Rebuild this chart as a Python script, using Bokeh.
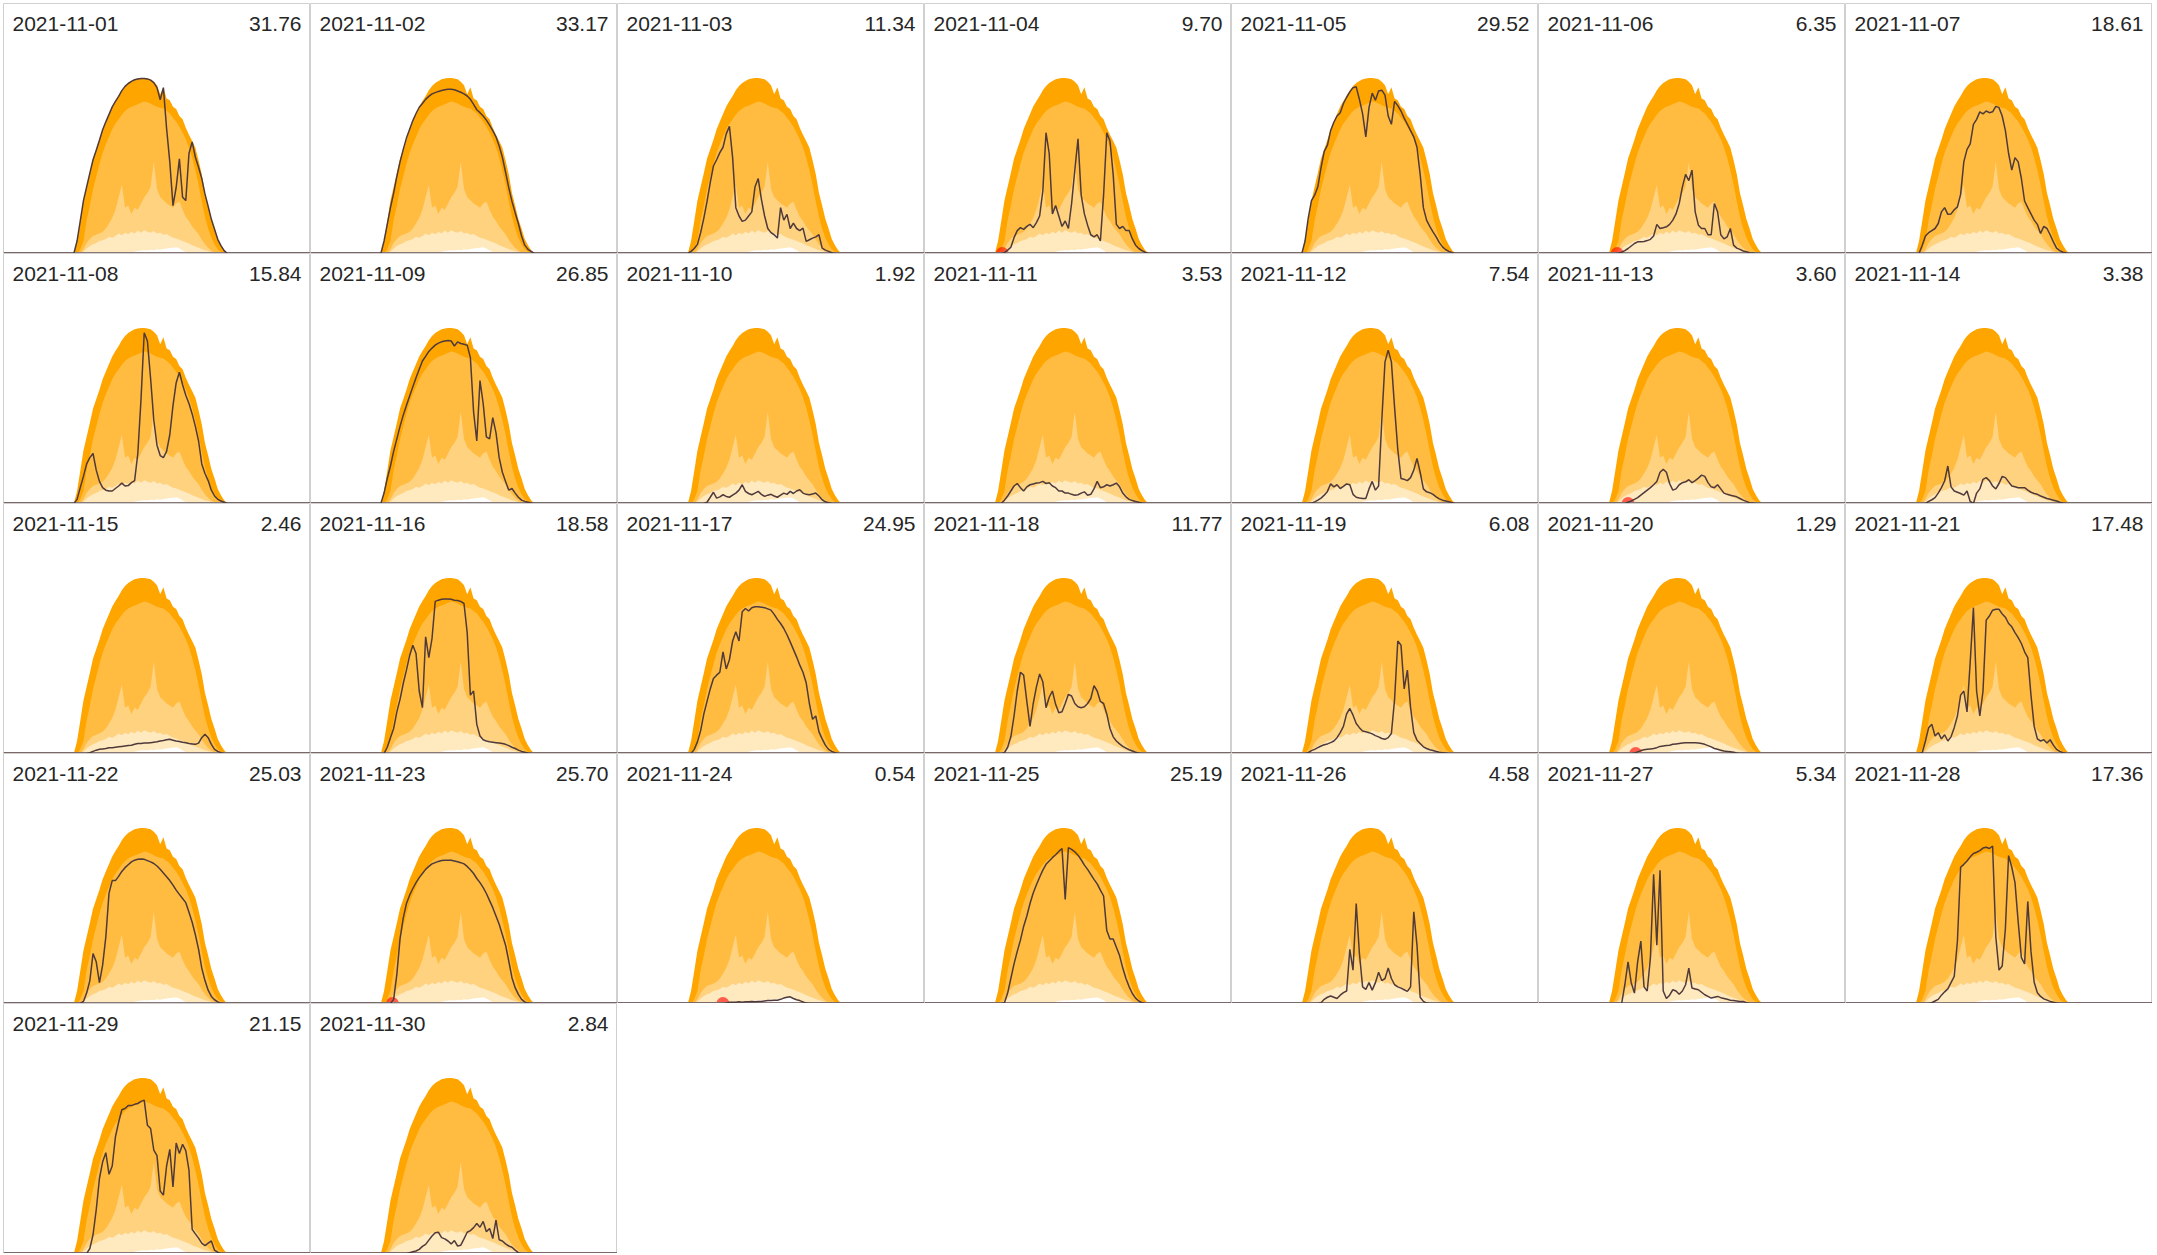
from bokeh.plotting import figure
from bokeh.layouts import gridplot
from bokeh.models import Label, Range1d, ColumnDataSource
from bokeh.embed import file_html
from bokeh.resources import INLINE

# ---------------- data ----------------
HOURS = [5.5, 5.75, 6.0, 6.25, 6.5, 6.75, 7.0, 7.25, 7.5, 7.75, 8.0, 8.25,
         8.5, 8.75, 9.0, 9.25, 9.5, 9.75, 10.0, 10.25, 10.5, 10.75, 11.0, 11.25,
         11.5, 11.75, 12.0, 12.25, 12.5, 12.75, 13.0, 13.25, 13.5, 13.75, 14.0, 14.25,
         14.5, 14.75, 15.0, 15.25, 15.5, 15.75, 16.0, 16.25, 16.5, 16.75, 17.0, 17.25,
         17.5]

BAND_MAX = [0, 0.3, 0.78, 1.27, 1.6, 1.93, 2.28, 2.5, 2.73, 2.98, 3.17, 3.35,
            3.53, 3.66, 3.78, 3.92, 4.02, 4.09, 4.14, 4.18, 4.2, 4.21, 4.21, 4.2,
            4.18, 4.12, 4.04, 3.82, 3.99, 3.72, 3.68, 3.52, 3.47, 3.3, 3.22, 3.02,
            2.85, 2.7, 2.54, 2.24, 1.9, 1.45, 1.15, 0.83, 0.6, 0.35, 0.2, 0.08,
            0]
BAND_Q75 = [0, 0, 0.1, 0.3, 0.8, 1.15, 1.55, 1.85, 2.15, 2.42, 2.62, 2.8,
            2.98, 3.12, 3.22, 3.33, 3.42, 3.48, 3.52, 3.55, 3.58, 3.62, 3.65, 3.63,
            3.6, 3.56, 3.52, 3.5, 3.48, 3.42, 3.36, 3.26, 3.16, 3.04, 2.9, 2.74,
            2.55, 2.3, 2.0, 1.65, 1.25, 0.88, 0.6, 0.38, 0.22, 0.1, 0.04, 0,
            0]
BAND_Q50 = [0, 0, 0, 0.1, 0.25, 0.35, 0.42, 0.45, 0.48, 0.52, 0.6, 0.72,
            0.85, 1.05, 1.35, 1.65, 1.1, 1.15, 0.95, 1.1, 1.05, 1.2, 1.35, 1.45,
            1.6, 2.2, 1.55, 1.35, 1.28, 1.2, 1.15, 1.1, 1.2, 1.25, 1.05, 0.88,
            0.78, 0.65, 0.55, 0.46, 0.33, 0.22, 0.13, 0.07, 0.02, 0, 0, 0,
            0]
BAND_Q25 = [0, 0, 0, 0.05, 0.12, 0.18, 0.22, 0.25, 0.3, 0.32, 0.35, 0.4,
            0.38, 0.42, 0.48, 0.44, 0.5, 0.46, 0.52, 0.48, 0.55, 0.5, 0.56, 0.52,
            0.5, 0.54, 0.48, 0.5, 0.45, 0.47, 0.42, 0.38, 0.36, 0.33, 0.3, 0.27,
            0.24, 0.2, 0.17, 0.14, 0.11, 0.08, 0.06, 0.03, 0.01, 0, 0, 0,
            0]
BAND_MIN = [0, 0, 0, 0, 0, 0, 0, 0, 0, 0, 0, 0,
            0, 0, 0, 0, 0, 0, 0.02, 0.04, 0.06, 0.07, 0.08, 0.07,
            0.09, 0.08, 0.1, 0.09, 0.11, 0.12, 0.13, 0.14, 0.15, 0.12, 0.08, 0.03,
            0, 0, 0, 0, 0, 0, 0, 0, 0, 0, 0, 0,
            0]

DATES = ["2021-11-%02d" % d for d in range(1, 31)]
TOTALS = [31.76, 33.17, 11.34, 9.70, 29.52, 6.35, 18.61,
          15.84, 26.85, 1.92, 3.53, 7.54, 3.60, 3.38,
          2.46, 18.58, 24.95, 11.77, 6.08, 1.29, 17.48,
          25.03, 25.70, 0.54, 25.19, 4.58, 5.34, 17.36,
          21.15, 2.84]

DAY_01 = [0, 0.3, 0.78, 1.27, 1.6, 1.93, 2.25, 2.48, 2.72, 2.97, 3.16, 3.34,
          3.52, 3.65, 3.77, 3.91, 4.01, 4.08, 4.13, 4.17, 4.19, 4.2, 4.2, 4.19,
          4.16, 4.1, 3.98, 3.69, 3.98, 3.0, 2.2, 1.15, 1.59, 2.27, 1.35, 1.27,
          2.4, 2.68, 2.31, 2.07, 1.8, 1.43, 1.13, 0.82, 0.58, 0.34, 0.19, 0.07, 0]
DAY_02 = [0, 0.3, 0.7, 1.1, 1.45, 1.85, 2.2, 2.5, 2.77, 2.98, 3.19, 3.36,
          3.51, 3.6, 3.7, 3.77, 3.83, 3.86, 3.89, 3.91, 3.93, 3.94, 3.94, 3.93,
          3.9, 3.87, 3.83, 3.78, 3.7, 3.58, 3.45, 3.38, 3.3, 3.2, 3.08, 2.95,
          2.8, 2.58, 2.31, 1.95, 1.58, 1.25, 0.98, 0.72, 0.42, 0.2, 0.1, 0.05, 0]
DAY_03 = [0, 0.05, 0.12, 0.22, 0.5, 0.85, 1.25, 1.7, 2.1, 2.25, 2.42, 2.55,
          2.87, 3.05, 2.3, 1.1, 0.9, 0.77, 0.8, 0.9, 1.0, 1.6, 1.8, 1.3,
          0.9, 0.6, 0.5, 0.45, 0.37, 1.1, 0.8, 0.94, 0.6, 0.73, 0.6, 0.55,
          0.61, 0.29, 0.33, 0.37, 0.4, 0.45, 0.13, 0.08, 0.05, 0.02, 0, 0, 0]
DAY_04 = [0, 0, 0, 0.02, 0.08, 0.15, 0.38, 0.55, 0.62, 0.58, 0.65, 0.7,
          0.62, 0.74, 0.9, 1.5, 2.9, 2.4, 0.95, 1.15, 0.9, 0.65, 0.78, 0.6,
          1.2, 2.0, 2.75, 1.4, 0.95, 0.68, 0.45, 0.4, 0.45, 0.3, 1.4, 2.9,
          2.7, 1.9, 0.7, 0.6, 0.65, 0.55, 0.55, 0.35, 0.2, 0.12, 0.07, 0.03, 0]
DAY_05 = [0, 0.3, 0.85, 1.27, 1.4, 1.6, 2.06, 2.45, 2.6, 2.95, 3.15, 3.3,
          3.38, 3.6, 3.75, 3.88, 3.98, 4.0, 3.7, 3.35, 2.8, 3.5, 3.85, 3.68,
          3.9, 3.92, 3.8, 3.3, 3.1, 3.65, 3.55, 3.42, 3.25, 3.1, 2.95, 2.8,
          2.55, 1.9, 1.1, 0.8, 0.65, 0.52, 0.4, 0.26, 0.16, 0.09, 0.05, 0.02, 0]
DAY_06 = [0, 0, 0, 0.01, 0.03, 0.07, 0.12, 0.18, 0.24, 0.28, 0.28, 0.29,
          0.31, 0.34, 0.42, 0.7, 0.6, 0.62, 0.64, 0.7, 0.8, 0.95, 1.2, 1.6,
          1.9, 1.75, 2.0, 1.0, 0.68, 0.6, 0.6, 0.45, 0.45, 1.2, 1.0, 0.45,
          0.35, 0.4, 0.6, 0.2, 0.13, 0.1, 0.06, 0.04, 0.02, 0.01, 0, 0, 0]
DAY_07 = [0, 0, 0.2, 0.42, 0.5, 0.55, 0.6, 0.72, 1.0, 1.1, 0.94, 0.95,
          1.05, 1.12, 1.42, 2.2, 2.5, 2.63, 3.1, 3.22, 3.4, 3.35, 3.42, 3.38,
          3.4, 3.53, 3.5, 3.3, 2.95, 2.4, 2.0, 2.3, 2.2, 1.8, 1.26, 1.1,
          0.95, 0.8, 0.7, 0.48, 0.65, 0.6, 0.45, 0.28, 0.13, 0.07, 0.03, 0.01, 0]
DAY_08 = [0, 0.1, 0.38, 0.65, 0.95, 1.1, 1.2, 0.8, 0.53, 0.38, 0.32, 0.3,
          0.3, 0.36, 0.42, 0.49, 0.42, 0.43, 0.5, 0.55, 1.2, 2.5, 4.1, 3.9,
          3.0, 2.0, 1.4, 1.15, 1.1, 1.25, 1.65, 2.35, 2.9, 3.15, 2.85, 2.6,
          2.4, 2.15, 1.85, 1.5, 0.95, 0.72, 0.55, 0.32, 0.18, 0.1, 0.06, 0.03, 0]
DAY_09 = [0, 0.25, 0.6, 0.9, 1.25, 1.55, 1.85, 2.12, 2.35, 2.58, 2.8, 3.02,
          3.22, 3.42, 3.53, 3.65, 3.73, 3.8, 3.85, 3.88, 3.9, 3.91, 3.9, 3.78,
          3.88, 3.84, 3.82, 3.8, 3.5, 2.2, 1.5, 2.95, 2.4, 1.6, 1.55, 2.06,
          1.7, 1.1, 0.75, 0.53, 0.32, 0.36, 0.25, 0.15, 0.08, 0.05, 0.03, 0.01, 0]
DAY_10 = [0, 0, 0, 0, 0, 0, 0.03, 0.15, 0.27, 0.13, 0.16, 0.21,
          0.17, 0.15, 0.2, 0.25, 0.32, 0.45, 0.29, 0.24, 0.21, 0.25, 0.29, 0.22,
          0.17, 0.2, 0.22, 0.18, 0.15, 0.2, 0.25, 0.22, 0.29, 0.24, 0.3, 0.33,
          0.25, 0.22, 0.21, 0.23, 0.25, 0.18, 0.09, 0.04, 0.02, 0, 0, 0, 0]
DAY_11 = [0, 0, 0, 0.08, 0.18, 0.3, 0.42, 0.48, 0.38, 0.3, 0.4, 0.45,
          0.47, 0.49, 0.5, 0.53, 0.48, 0.5, 0.42, 0.38, 0.3, 0.3, 0.25, 0.25,
          0.22, 0.2, 0.21, 0.25, 0.28, 0.2, 0.22, 0.35, 0.53, 0.38, 0.4, 0.45,
          0.42, 0.45, 0.49, 0.4, 0.25, 0.16, 0.1, 0.07, 0.05, 0.03, 0.01, 0, 0]
DAY_12 = [0, 0, 0, 0.01, 0.04, 0.08, 0.13, 0.2, 0.29, 0.47, 0.4, 0.45,
          0.36, 0.41, 0.47, 0.45, 0.22, 0.15, 0.13, 0.12, 0.12, 0.35, 0.53, 0.32,
          0.42, 2.0, 3.4, 3.68, 3.4, 2.3, 1.3, 0.6, 0.58, 0.55, 0.62, 0.8,
          1.08, 0.75, 0.35, 0.28, 0.26, 0.22, 0.16, 0.11, 0.08, 0.06, 0.04, 0.02, 0]
DAY_13 = [0, 0, 0, 0, 0, 0, 0.03, 0.06, 0.1, 0.14, 0.2, 0.26,
          0.32, 0.38, 0.45, 0.53, 0.75, 0.82, 0.75, 0.48, 0.32, 0.35, 0.45, 0.5,
          0.52, 0.57, 0.5, 0.55, 0.61, 0.68, 0.65, 0.5, 0.4, 0.38, 0.45, 0.35,
          0.25, 0.22, 0.2, 0.18, 0.16, 0.12, 0.08, 0.05, 0.02, 0.01, 0, 0, 0]
DAY_14 = [0, 0, 0, 0, 0.05, 0.09, 0.14, 0.25, 0.38, 0.54, 0.9, 0.4,
          0.3, 0.27, 0.24, 0.2, 0.3, 0.05, 0.0, 0.25, 0.35, 0.58, 0.62, 0.55,
          0.42, 0.35, 0.48, 0.65, 0.62, 0.52, 0.42, 0.4, 0.38, 0.38, 0.38, 0.32,
          0.27, 0.24, 0.22, 0.18, 0.15, 0.12, 0.1, 0.08, 0.06, 0.03, 0.01, 0, 0]
DAY_15 = [0, 0, 0, 0, 0, 0.02, 0.05, 0.08, 0.1, 0.11, 0.12, 0.14,
          0.14, 0.15, 0.16, 0.17, 0.18, 0.19, 0.2, 0.22, 0.24, 0.24, 0.25, 0.25,
          0.26, 0.27, 0.28, 0.3, 0.31, 0.33, 0.34, 0.32, 0.3, 0.29, 0.27, 0.26,
          0.24, 0.23, 0.22, 0.25, 0.38, 0.46, 0.38, 0.22, 0.1, 0.05, 0.02, 0, 0]
DAY_16 = [0, 0, 0.15, 0.38, 0.6, 1.0, 1.3, 1.68, 2.0, 2.35, 2.6, 2.4,
          1.5, 1.1, 2.8, 2.3, 2.76, 3.65, 3.68, 3.7, 3.71, 3.71, 3.7, 3.68,
          3.67, 3.65, 3.6, 2.9, 1.4, 1.5, 0.7, 0.42, 0.33, 0.3, 0.28, 0.27,
          0.26, 0.25, 0.24, 0.22, 0.19, 0.15, 0.12, 0.08, 0.05, 0.03, 0.01, 0, 0]
DAY_17 = [0, 0, 0.1, 0.28, 0.55, 0.95, 1.25, 1.55, 1.8, 1.88, 1.95, 2.44,
          2.03, 2.25, 2.7, 2.92, 2.7, 3.4, 3.48, 3.42, 3.5, 3.52, 3.52, 3.51,
          3.5, 3.47, 3.44, 3.34, 3.22, 3.12, 3.0, 2.85, 2.68, 2.5, 2.32, 2.12,
          1.95, 1.7, 1.2, 0.82, 0.9, 0.52, 0.35, 0.2, 0.1, 0.05, 0.02, 0, 0]
DAY_18 = [0, 0, 0, 0.02, 0.15, 0.4, 0.9, 1.5, 1.95, 1.88, 1.25, 0.65,
          1.2, 1.6, 1.91, 1.72, 1.1, 1.35, 1.5, 1.18, 0.98, 1.0, 1.2, 1.42,
          1.38, 1.2, 1.12, 1.1, 1.12, 1.2, 1.32, 1.63, 1.5, 1.25, 1.2, 0.95,
          0.6, 0.4, 0.3, 0.23, 0.17, 0.13, 0.09, 0.06, 0.03, 0.01, 0, 0, 0]
DAY_19 = [0, 0, 0.02, 0.07, 0.1, 0.14, 0.18, 0.21, 0.23, 0.26, 0.3, 0.38,
          0.5, 0.65, 0.95, 1.08, 0.92, 0.72, 0.62, 0.54, 0.52, 0.5, 0.47, 0.43,
          0.4, 0.36, 0.34, 0.38, 0.48, 1.3, 2.7, 2.6, 1.55, 2.0, 1.1, 0.5,
          0.32, 0.24, 0.16, 0.12, 0.09, 0.07, 0.05, 0.03, 0.02, 0.01, 0, 0, 0]
DAY_20 = [0, 0, 0, 0, 0, 0, 0, 0, 0.01, 0.04, 0.07, 0.09,
          0.1, 0.11, 0.12, 0.14, 0.17, 0.18, 0.19, 0.2, 0.22, 0.23, 0.24, 0.25,
          0.26, 0.26, 0.26, 0.26, 0.25, 0.24, 0.22, 0.19, 0.16, 0.12, 0.1, 0.08,
          0.06, 0.05, 0.04, 0.03, 0.01, 0, 0, 0, 0, 0, 0, 0, 0]
DAY_21 = [0, 0, 0.02, 0.3, 0.62, 0.7, 0.42, 0.5, 0.35, 0.45, 0.3, 0.4,
          0.62, 0.9, 1.4, 1.5, 1.0, 2.2, 3.5, 1.5, 0.9, 1.5, 3.2, 3.3,
          3.44, 3.46, 3.46, 3.35, 3.27, 3.12, 3.04, 2.9, 2.78, 2.64, 2.44, 2.3,
          1.4, 0.65, 0.35, 0.3, 0.33, 0.25, 0.33, 0.2, 0.1, 0.05, 0.02, 0, 0]
DAY_22 = [0, 0, 0, 0.05, 0.25, 0.55, 1.2, 1.0, 0.5, 0.92, 1.6, 2.65,
          2.95, 2.95, 3.05, 3.17, 3.26, 3.33, 3.4, 3.44, 3.46, 3.47, 3.46, 3.43,
          3.4, 3.36, 3.3, 3.22, 3.13, 3.04, 2.95, 2.84, 2.72, 2.62, 2.52, 2.42,
          2.19, 1.95, 1.65, 1.3, 0.85, 0.55, 0.32, 0.17, 0.09, 0.04, 0.01, 0, 0]
DAY_23 = [0, 0, 0, 0, 0.1, 0.7, 1.55, 2.05, 2.4, 2.6, 2.76, 2.9,
          3.02, 3.12, 3.22, 3.29, 3.35, 3.38, 3.41, 3.43, 3.44, 3.44, 3.44, 3.42,
          3.4, 3.38, 3.35, 3.29, 3.21, 3.12, 3.0, 2.9, 2.78, 2.64, 2.47, 2.3,
          2.1, 1.9, 1.65, 1.4, 1.02, 0.62, 0.38, 0.22, 0.1, 0.04, 0.01, 0, 0]
DAY_24 = [0, 0, 0, 0, 0, 0, 0, 0, 0, 0, 0, 0,
          0.01, 0.03, 0.03, 0.03, 0.04, 0.03, 0.04, 0.04, 0.05, 0.04, 0.05, 0.05,
          0.06, 0.07, 0.07, 0.08, 0.08, 0.1, 0.13, 0.15, 0.16, 0.12, 0.09, 0.07,
          0.04, 0.01, 0, 0, 0, 0, 0, 0, 0, 0, 0, 0, 0]
DAY_25 = [0, 0, 0, 0.02, 0.25, 0.6, 0.95, 1.25, 1.52, 1.85, 2.1, 2.4,
          2.65, 2.85, 3.03, 3.2, 3.34, 3.42, 3.5, 3.57, 3.65, 3.72, 2.5, 3.74,
          3.7, 3.64, 3.56, 3.45, 3.32, 3.22, 3.1, 2.98, 2.87, 2.72, 2.58, 1.75,
          1.55, 1.55, 1.35, 1.15, 0.85, 0.6, 0.4, 0.24, 0.13, 0.06, 0.02, 0, 0]
DAY_26 = [0, 0, 0, 0, 0, 0, 0.02, 0.1, 0.15, 0.18, 0.15, 0.12,
          0.2, 0.26, 0.3, 1.3, 0.8, 2.4, 1.2, 0.4, 0.34, 0.5, 0.32, 0.5,
          0.75, 0.55, 0.6, 0.85, 0.6, 0.45, 0.4, 0.37, 0.33, 0.29, 0.4, 2.2,
          1.4, 0.15, 0.05, 0.01, 0, 0, 0, 0, 0, 0, 0, 0, 0]
DAY_27 = [0, 0, 0, 0, 0, 0.45, 1.0, 0.5, 0.25, 1.0, 1.5, 0.4,
          0.3, 1.1, 3.1, 1.4, 3.2, 0.3, 0.12, 0.2, 0.33, 0.3, 0.22, 0.3,
          0.45, 0.85, 0.37, 0.35, 0.33, 0.27, 0.21, 0.17, 0.13, 0.15, 0.17, 0.14,
          0.12, 0.1, 0.08, 0.07, 0.06, 0.05, 0.05, 0.02, 0, 0, 0, 0, 0]
DAY_28 = [0, 0, 0, 0, 0, 0.02, 0.06, 0.1, 0.2, 0.28, 0.35, 0.5,
          0.65, 1.5, 3.27, 3.34, 3.42, 3.52, 3.6, 3.63, 3.67, 3.73, 3.75, 3.72,
          3.78, 1.6, 0.8, 0.9, 1.8, 3.55, 3.27, 2.9, 1.96, 1.1, 0.95, 2.45,
          1.25, 0.51, 0.26, 0.17, 0.11, 0.08, 0.05, 0.03, 0.01, 0, 0, 0, 0]
DAY_29 = [0, 0, 0, 0, 0, 0.12, 0.45, 1.05, 1.8, 2.2, 2.42, 1.9,
          2.1, 2.8, 3.15, 3.45, 3.48, 3.55, 3.55, 3.58, 3.6, 3.65, 3.68, 3.08,
          3.0, 2.48, 2.35, 1.5, 1.4, 2.1, 2.5, 1.6, 2.65, 2.4, 2.62, 2.47,
          2.0, 0.58, 0.47, 0.37, 0.25, 0.19, 0.25, 0.3, 0.08, 0.03, 0, 0, 0]
DAY_30 = [0, 0, 0, 0, 0, 0, 0, 0, 0, 0.02, 0.04, 0.06,
          0.1, 0.17, 0.22, 0.32, 0.42, 0.5, 0.51, 0.38, 0.35, 0.3, 0.23, 0.31,
          0.18, 0.2, 0.35, 0.51, 0.55, 0.62, 0.72, 0.63, 0.77, 0.52, 0.6, 0.36,
          0.8, 0.33, 0.3, 0.23, 0.18, 0.15, 0.08, 0.02, 0, 0, 0, 0, 0]

SERIES = [DAY_01, DAY_02, DAY_03, DAY_04, DAY_05, DAY_06, DAY_07, DAY_08, DAY_09, DAY_10,
          DAY_11, DAY_12, DAY_13, DAY_14, DAY_15, DAY_16, DAY_17, DAY_18, DAY_19, DAY_20,
          DAY_21, DAY_22, DAY_23, DAY_24, DAY_25, DAY_26, DAY_27, DAY_28, DAY_29, DAY_30]

MARK_DAYS = ["2021-11-04", "2021-11-06", "2021-11-13", "2021-11-20", "2021-11-23", "2021-11-24"]
MARK_HOURS = [6.07, 6.15, 7.0, 7.6, 6.4, 8.24]

for name, arr in [("max", BAND_MAX), ("q75", BAND_Q75), ("q50", BAND_Q50),
                  ("q25", BAND_Q25), ("min", BAND_MIN)]:
    assert len(arr) == len(HOURS), (name, len(arr))
for i, s in enumerate(SERIES):
    assert len(s) == len(HOURS), (i + 1, len(s))

# ---------------- drawing ----------------
W, H = 307, 250
LINE_COLOR = "#4f3a3b"
band_src = ColumnDataSource(dict(x=HOURS, mx=BAND_MAX, q75=BAND_Q75, q50=BAND_Q50,
                                 q25=BAND_Q25, mn=BAND_MIN))

figs = []
for d, tot, s in zip(DATES, TOTALS, SERIES):
    p = figure(width=W, height=H, x_range=Range1d(0, 24), y_range=Range1d(0, 6),
               output_backend="svg", toolbar_location=None, min_border=0,
               x_axis_type=None, y_axis_type=None,
               outline_line_color="#d0d0d0", outline_line_width=1,
               background_fill_color="white", border_fill_color="white")
    p.xgrid.visible = False
    p.ygrid.visible = False
    p.varea(x="x", y1=0, y2="mx", source=band_src, fill_color="#FFA500")
    p.varea(x="x", y1=0, y2="q75", source=band_src, fill_color="#FFBC40")
    p.varea(x="x", y1=0, y2="q50", source=band_src, fill_color="#FFD280")
    p.varea(x="x", y1=0, y2="q25", source=band_src, fill_color="#FFE9BF")
    p.varea(x="x", y1=0, y2="mn", source=band_src, fill_color="white")
    mx = [h for md, h in zip(MARK_DAYS, MARK_HOURS) if md == d]
    if mx:
        p.scatter(x=mx, y=[0] * len(mx), size=13, marker="circle",
                  fill_color="red", fill_alpha=0.6, line_color=None)
    p.line(x=[0, 24], y=[0, 0], line_color="#8a7878", line_width=3)
    p.line(x=[0] + HOURS + [24], y=[0] + s + [0], line_color=LINE_COLOR, line_width=1.5)
    p.add_layout(Label(x=9, y=H - 20, x_units="screen", y_units="screen", text=d,
                       text_font="Liberation Sans", text_font_size="21px",
                       text_color="#262626", text_baseline="alphabetic"))
    p.add_layout(Label(x=W - 9, y=H - 20, x_units="screen", y_units="screen",
                       text="%.2f" % tot, text_align="right",
                       text_font="Liberation Sans", text_font_size="21px",
                       text_color="#262626", text_baseline="alphabetic"))
    figs.append(p)

grid = gridplot(figs, ncols=7, toolbar_location=None)
grid.margin = (3, 0, 0, 3)
open("out.html", "w").write(file_html(grid, INLINE))
